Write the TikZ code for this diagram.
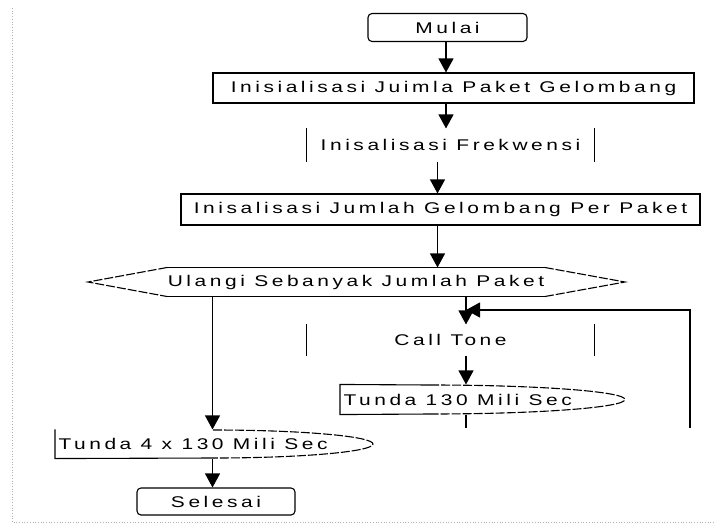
\documentclass[tikz,border=0pt]{standalone}
\usepackage{fontspec}
\setmainfont{Liberation Sans}[FakeStretch=1.35,LetterSpace=23]
\usetikzlibrary{arrows.meta}
\tikzset{
  arr/.style={-{Triangle[width=15pt,length=14pt]}},
  box/.style={draw, minimum width=#1, minimum height=30pt, inner sep=0pt},
  term/.style={draw, rounded corners=4pt, minimum width=#1, minimum height=28pt, inner sep=0pt},
  io/.style={minimum width=#1, minimum height=32pt, inner sep=0pt},
  disp/.style={anchor=west, minimum height=29pt, inner xsep=3pt, inner ysep=0pt},
  curve/.style={dash pattern=on 9pt off 2pt}
}
\begin{document}
\begin{tikzpicture}[x=1pt,y=-1pt,font=\fontsize{15.5}{17}\selectfont,line width=1.1pt]
\useasboundingbox (0,0) rectangle (714,525);
\draw[gray!60, dotted, line width=0.7pt] (12,8) -- (12,522) -- (714,522);
\coordinate (colA) at (446,0);
\coordinate (colB) at (437.5,0);
\coordinate (colL) at (212.5,0);
\coordinate (colR) at (466,0);
\coordinate (loopbot) at (690,428);
\coordinate (looptop) at (690,310);
\node[term=159pt] (mulai) at (447.5,27.5) {Mulai};
\node[box=481pt] (init1) at (453.5,88) {Inisialisasi Juimla Paket Gelombang};
\node[io=287pt] (frek) at (450.5,145) {Inisalisasi Frekwensi};
\node[box=519pt, minimum height=31pt] (init2) at (440.5,209.5) {Inisalisasi Jumlah Gelombang Per Paket};
\node[minimum width=332pt, minimum height=28pt, inner sep=0pt] (ulangi) at (356,282) {Ulangi Sebanyak Jumlah Paket};
\node[io=287pt, minimum height=30pt] (call) at (450.5,340) {Call Tone};
\node[disp] (tunda1) at (340,399.5) {Tunda 130 Mili Sec};
\node[disp, minimum height=28pt] (tunda2) at (55,444) {Tunda 4 x 130 Mili Sec};
\node[term=158pt, minimum height=27pt] (selesai) at (216,501.5) {Selesai};
% bentuk
\draw (frek.north west) -- (frek.south west) (frek.north east) -- (frek.south east);
\draw (call.north west) -- (call.south west) (call.north east) -- (call.south east);
\draw (ulangi.north west) -- (ulangi.north east) (ulangi.south west) -- (ulangi.south east);
\draw[curve] (ulangi.north east) -- (625,282) -- (ulangi.south east);
\draw[curve] (ulangi.north west) -- (88,282) -- (ulangi.south west);
\draw (430,385) -- (tunda1.north west) -- (tunda1.south west) -- (430,414);
\draw[curve] (430,385) arc[start angle=90,end angle=-90,x radius=195pt,y radius=14.5pt];
\draw (tunda2.north west) -- (tunda2.south west) -- (213,458);
\draw[curve] (213,430) arc[start angle=90,end angle=-90,x radius=160pt,y radius=14pt];
% alur
\draw[arr] (mulai.south -| colA) -- (init1.north -| colA);
\draw[arr] (init1.south -| colA) -- (frek.north -| colA);
\draw[arr] (frek.south -| colB) -- (init2.north -| colB);
\draw[arr] (init2.south -| colB) -- (ulangi.north -| colB);
\draw[arr] (ulangi.south -| colL) -- (tunda2.north -| colL);
\draw[arr] (tunda2.south -| colL) -- (selesai.north -| colL);
\draw[arr] (ulangi.south -| colR) -- (call.north -| colR);
\draw[arr] (call.south -| colR) -- (tunda1.north -| colR);
\draw (tunda1.south -| colR) -- (loopbot -| colR);
\draw[arr] (loopbot) -- (looptop) -- (looptop -| colR);
\end{tikzpicture}
\end{document}
